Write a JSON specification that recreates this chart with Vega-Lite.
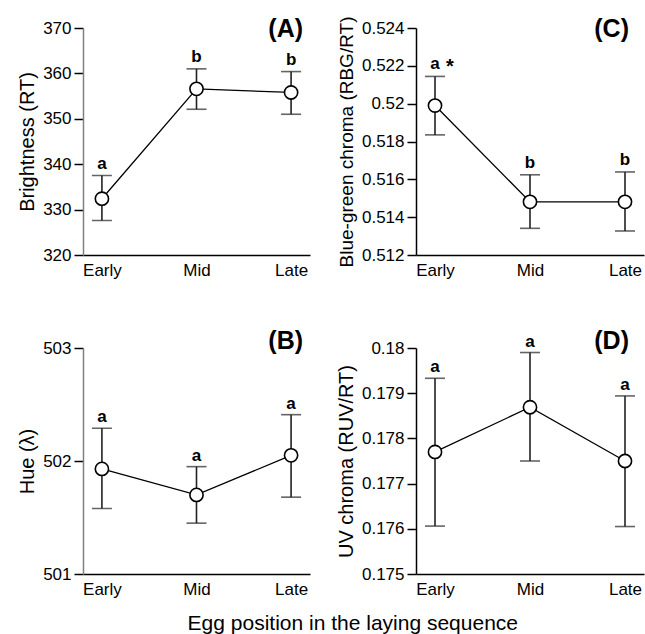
{
  "$schema": "https://vega.github.io/schema/vega-lite/v6.json",
  "background": "white",
  "padding": {"left": 17, "top": 16, "right": 2, "bottom": 0},
  "title": {"text": "Egg position in the laying sequence", "orient": "bottom", "anchor": "middle", "fontSize": 21, "fontWeight": "normal", "font": "Liberation Sans", "offset": 16, "dx": 22, "color": "#000"},
  "columns": 2,
  "align": "each",
  "spacing": {"row": 51, "column": 26},
  "concat": [
    {
      "width": 227, "height": 227,
      "data": {"values": [
        {"pos": "Early", "mean": 332.4, "lo": 327.6, "hi": 337.5, "letter": "a"},
        {"pos": "Mid", "mean": 356.6, "lo": 352.1, "hi": 361.0, "letter": "b"},
        {"pos": "Late", "mean": 355.8, "lo": 351.0, "hi": 360.4, "letter": "b", "panel": "(A)", "top": 370}
      ]},
      "encoding": {"x": {"field": "pos", "type": "ordinal", "sort": ["Early", "Mid", "Late"], "scale": {"type": "point", "padding": 0.2}, "axis": {"title": null, "labelAngle": 0, "ticks": false, "labelPadding": 7}}},
      "layer": [
        {"mark": {"type": "line", "color": "black", "strokeWidth": 1.3}, "encoding": {"y": {"field": "mean", "type": "quantitative", "scale": {"domain": [320, 370]}, "axis": {"title": "Brightness (RT)", "values": [320, 330, 340, 350, 360, 370], "tickCount": 20, "domainColor": "#808080"}}}},
        {"mark": {"type": "rule", "color": "#222", "strokeWidth": 1.6}, "encoding": {"y": {"field": "lo", "type": "quantitative"}, "y2": {"field": "hi"}}},
        {"mark": {"type": "tick", "color": "#222", "size": 20, "thickness": 1.6}, "encoding": {"y": {"field": "lo", "type": "quantitative"}}},
        {"mark": {"type": "tick", "color": "#222", "size": 20, "thickness": 1.6}, "encoding": {"y": {"field": "hi", "type": "quantitative"}}},
        {"mark": {"type": "point", "shape": "circle", "filled": true, "fill": "white", "stroke": "black", "strokeWidth": 1.6, "size": 175, "opacity": 1}, "encoding": {"y": {"field": "mean", "type": "quantitative"}}},
        {"mark": {"type": "text", "fontWeight": "bold", "fontSize": 17, "baseline": "alphabetic", "dy": -7, "color": "black"}, "encoding": {"y": {"field": "hi", "type": "quantitative"}, "text": {"field": "letter"}}},
        {"mark": {"type": "text", "fontWeight": "bold", "fontSize": 25, "baseline": "middle", "align": "right", "dx": 12, "dy": 1, "color": "black"}, "encoding": {"y": {"field": "top", "type": "quantitative"}, "text": {"field": "panel"}}}
      ]
    },
    {
      "width": 228, "height": 227,
      "data": {"values": [
        {"pos": "Early", "mean": 0.5199, "lo": 0.51835, "hi": 0.52144, "letter": "a", "star": "*"},
        {"pos": "Mid", "mean": 0.51481, "lo": 0.51341, "hi": 0.51624, "letter": "b", "star": ""},
        {"pos": "Late", "mean": 0.51481, "lo": 0.51327, "hi": 0.51639, "letter": "b", "star": "", "panel": "(C)", "top": 0.524}
      ]},
      "encoding": {"x": {"field": "pos", "type": "ordinal", "sort": ["Early", "Mid", "Late"], "scale": {"type": "point", "padding": 0.2}, "axis": {"title": null, "labelAngle": 0, "ticks": false, "labelPadding": 7}}},
      "layer": [
        {"mark": {"type": "line", "color": "black", "strokeWidth": 1.3}, "encoding": {"y": {"field": "mean", "type": "quantitative", "scale": {"domain": [0.512, 0.524]}, "axis": {"title": "Blue-green chroma (RBG/RT)", "titleFontSize": 19, "values": [0.512, 0.514, 0.516, 0.518, 0.52, 0.522, 0.524], "tickCount": 20, "format": ".3~f"}}}},
        {"mark": {"type": "rule", "color": "#222", "strokeWidth": 1.6}, "encoding": {"y": {"field": "lo", "type": "quantitative"}, "y2": {"field": "hi"}}},
        {"mark": {"type": "tick", "color": "#222", "size": 20, "thickness": 1.6}, "encoding": {"y": {"field": "lo", "type": "quantitative"}}},
        {"mark": {"type": "tick", "color": "#222", "size": 20, "thickness": 1.6}, "encoding": {"y": {"field": "hi", "type": "quantitative"}}},
        {"mark": {"type": "point", "shape": "circle", "filled": true, "fill": "white", "stroke": "black", "strokeWidth": 1.6, "size": 175, "opacity": 1}, "encoding": {"y": {"field": "mean", "type": "quantitative"}}},
        {"mark": {"type": "text", "fontWeight": "bold", "fontSize": 17, "baseline": "alphabetic", "dy": -7, "color": "black"}, "encoding": {"y": {"field": "hi", "type": "quantitative"}, "text": {"field": "letter"}}},
        {"mark": {"type": "text", "fontWeight": "bold", "fontSize": 20, "baseline": "alphabetic", "dy": -3, "dx": 15, "color": "black"}, "encoding": {"y": {"field": "hi", "type": "quantitative"}, "text": {"field": "star"}}},
        {"mark": {"type": "text", "fontWeight": "bold", "fontSize": 25, "baseline": "middle", "align": "right", "dx": 4, "dy": 1, "color": "black"}, "encoding": {"y": {"field": "top", "type": "quantitative"}, "text": {"field": "panel"}}}
      ]
    },
    {
      "width": 227, "height": 226,
      "data": {"values": [
        {"pos": "Early", "mean": 501.93, "lo": 501.58, "hi": 502.29, "letter": "a"},
        {"pos": "Mid", "mean": 501.70, "lo": 501.45, "hi": 501.95, "letter": "a"},
        {"pos": "Late", "mean": 502.05, "lo": 501.68, "hi": 502.41, "letter": "a", "panel": "(B)", "top": 503}
      ]},
      "encoding": {"x": {"field": "pos", "type": "ordinal", "sort": ["Early", "Mid", "Late"], "scale": {"type": "point", "padding": 0.2}, "axis": {"title": null, "labelAngle": 0, "ticks": false, "labelPadding": 7}}},
      "layer": [
        {"mark": {"type": "line", "color": "black", "strokeWidth": 1.3}, "encoding": {"y": {"field": "mean", "type": "quantitative", "scale": {"domain": [501, 503]}, "axis": {"title": "Hue (λ)", "values": [501, 502, 503], "tickCount": 20, "format": ".0f", "domainColor": "#808080"}}}},
        {"mark": {"type": "rule", "color": "#222", "strokeWidth": 1.6}, "encoding": {"y": {"field": "lo", "type": "quantitative"}, "y2": {"field": "hi"}}},
        {"mark": {"type": "tick", "color": "#222", "size": 20, "thickness": 1.6}, "encoding": {"y": {"field": "lo", "type": "quantitative"}}},
        {"mark": {"type": "tick", "color": "#222", "size": 20, "thickness": 1.6}, "encoding": {"y": {"field": "hi", "type": "quantitative"}}},
        {"mark": {"type": "point", "shape": "circle", "filled": true, "fill": "white", "stroke": "black", "strokeWidth": 1.6, "size": 175, "opacity": 1}, "encoding": {"y": {"field": "mean", "type": "quantitative"}}},
        {"mark": {"type": "text", "fontWeight": "bold", "fontSize": 17, "baseline": "alphabetic", "dy": -6, "color": "black"}, "encoding": {"y": {"field": "hi", "type": "quantitative"}, "text": {"field": "letter"}}},
        {"mark": {"type": "text", "fontWeight": "bold", "fontSize": 25, "baseline": "middle", "align": "right", "dx": 12, "dy": -7, "color": "black"}, "encoding": {"y": {"field": "top", "type": "quantitative"}, "text": {"field": "panel"}}}
      ]
    },
    {
      "width": 228, "height": 226,
      "data": {"values": [
        {"pos": "Early", "mean": 0.1777, "lo": 0.17606, "hi": 0.17933, "letter": "a"},
        {"pos": "Mid", "mean": 0.17869, "lo": 0.1775, "hi": 0.1799, "letter": "a"},
        {"pos": "Late", "mean": 0.1775, "lo": 0.17605, "hi": 0.17894, "letter": "a", "panel": "(D)", "top": 0.18}
      ]},
      "encoding": {"x": {"field": "pos", "type": "ordinal", "sort": ["Early", "Mid", "Late"], "scale": {"type": "point", "padding": 0.2}, "axis": {"title": null, "labelAngle": 0, "ticks": false, "labelPadding": 7}}},
      "layer": [
        {"mark": {"type": "line", "color": "black", "strokeWidth": 1.3}, "encoding": {"y": {"field": "mean", "type": "quantitative", "scale": {"domain": [0.175, 0.18]}, "axis": {"title": "UV chroma (RUV/RT)", "values": [0.175, 0.176, 0.177, 0.178, 0.179, 0.18], "tickCount": 20, "format": ".3~f"}}}},
        {"mark": {"type": "rule", "color": "#222", "strokeWidth": 1.6}, "encoding": {"y": {"field": "lo", "type": "quantitative"}, "y2": {"field": "hi"}}},
        {"mark": {"type": "tick", "color": "#222", "size": 20, "thickness": 1.6}, "encoding": {"y": {"field": "lo", "type": "quantitative"}}},
        {"mark": {"type": "tick", "color": "#222", "size": 20, "thickness": 1.6}, "encoding": {"y": {"field": "hi", "type": "quantitative"}}},
        {"mark": {"type": "point", "shape": "circle", "filled": true, "fill": "white", "stroke": "black", "strokeWidth": 1.6, "size": 175, "opacity": 1}, "encoding": {"y": {"field": "mean", "type": "quantitative"}}},
        {"mark": {"type": "text", "fontWeight": "bold", "fontSize": 17, "baseline": "alphabetic", "dy": -6, "color": "black"}, "encoding": {"y": {"field": "hi", "type": "quantitative"}, "text": {"field": "letter"}}},
        {"mark": {"type": "text", "fontWeight": "bold", "fontSize": 25, "baseline": "middle", "align": "right", "dx": 4, "dy": -7, "color": "black"}, "encoding": {"y": {"field": "top", "type": "quantitative"}, "text": {"field": "panel"}}}
      ]
    }
  ],
  "config": {
    "view": {"stroke": null},
    "font": "Liberation Sans",
    "axis": {"grid": false, "labelFont": "Liberation Sans", "labelFontSize": 17, "labelColor": "#000", "labelOverlap": false, "titleFont": "Liberation Sans", "titleFontSize": 20, "titleFontWeight": "normal", "titleColor": "#000", "domainColor": "#000", "tickColor": "#000", "tickSize": 9, "domainWidth": 1.5, "tickWidth": 1.5},
    "axisY": {"titlePadding": 5, "labelPadding": 3},
    "title": {"font": "Liberation Sans", "color": "#000"}
  }
}
